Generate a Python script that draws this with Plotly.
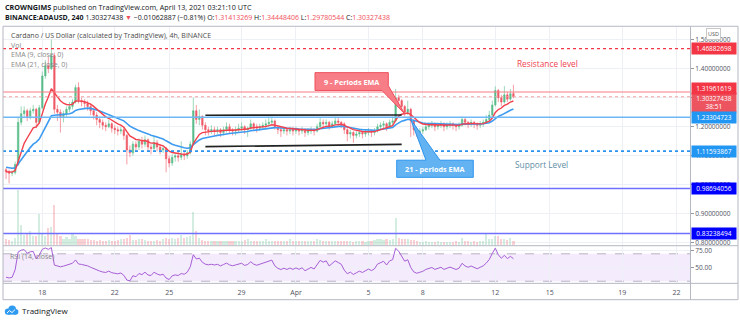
import pandas as pd
import plotly.graph_objects as go

W, H = 740, 323

# ---------------- data: BINANCE ADAUSD, 4h candles ----------------
start = "2021-03-16 00:00"
first_open = 1.052
last_open = 1.31413269

close = [
    1.045, 1.040, 1.042, 1.070, 1.215, 1.245, 1.255, 1.235, 1.255, 1.260,
    1.215, 1.265, 1.375, 1.410, 1.400, 1.445, 1.260, 1.250, 1.235, 1.245,
    1.260, 1.270, 1.285, 1.335, 1.290, 1.285, 1.280, 1.270, 1.255, 1.240,
    1.225, 1.215, 1.205, 1.200, 1.210, 1.195, 1.190, 1.185, 1.190, 1.170,
    1.120, 1.110, 1.140, 1.130, 1.150, 1.140, 1.155, 1.130, 1.125, 1.145,
    1.130, 1.120, 1.125, 1.090, 1.075, 1.095, 1.100, 1.095, 1.105, 1.100,
    1.110, 1.140, 1.255, 1.225, 1.235, 1.205, 1.190, 1.185, 1.190, 1.185,
    1.190, 1.180, 1.190, 1.200, 1.190, 1.185, 1.190, 1.195, 1.200, 1.190,
    1.195, 1.210, 1.200, 1.195, 1.200, 1.205, 1.210, 1.215, 1.220, 1.200,
    1.190, 1.185, 1.190, 1.185, 1.190, 1.185, 1.190, 1.185, 1.190, 1.180,
    1.185, 1.190, 1.185, 1.200, 1.215, 1.210, 1.215, 1.200, 1.210, 1.220,
    1.215, 1.210, 1.190, 1.175, 1.180, 1.170, 1.175, 1.180, 1.175, 1.180,
    1.185, 1.180, 1.185, 1.200, 1.205, 1.210, 1.200, 1.215, 1.220, 1.300,
    1.290, 1.270, 1.250, 1.260, 1.220, 1.190, 1.180, 1.185, 1.190, 1.200,
    1.205, 1.210, 1.200, 1.205, 1.210, 1.200, 1.205, 1.210, 1.205, 1.200,
    1.205, 1.225, 1.215, 1.210, 1.215, 1.210, 1.205, 1.210, 1.215, 1.225,
    1.240, 1.275, 1.325, 1.300, 1.285, 1.310, 1.295, 1.31390325, 1.30327438,
]
high = [
    1.058, 1.052, 1.050, 1.080, 1.235, 1.270, 1.270, 1.262, 1.265, 1.275,
    1.265, 1.275, 1.390, 1.430, 1.440, 1.500, 1.455, 1.275, 1.260, 1.255,
    1.270, 1.285, 1.295, 1.345, 1.353, 1.300, 1.295, 1.290, 1.280, 1.265,
    1.250, 1.235, 1.225, 1.215, 1.225, 1.215, 1.205, 1.200, 1.200, 1.200,
    1.175, 1.135, 1.150, 1.150, 1.160, 1.165, 1.170, 1.160, 1.140, 1.170,
    1.155, 1.140, 1.135, 1.130, 1.100, 1.105, 1.110, 1.120, 1.150, 1.115,
    1.120, 1.150, 1.300, 1.275, 1.260, 1.240, 1.215, 1.200, 1.205, 1.200,
    1.200, 1.195, 1.200, 1.215, 1.210, 1.195, 1.200, 1.210, 1.215, 1.205,
    1.200, 1.225, 1.215, 1.210, 1.210, 1.215, 1.225, 1.235, 1.235, 1.225,
    1.205, 1.200, 1.200, 1.195, 1.200, 1.200, 1.200, 1.195, 1.200, 1.195,
    1.195, 1.200, 1.195, 1.210, 1.230, 1.225, 1.225, 1.220, 1.220, 1.235,
    1.230, 1.220, 1.215, 1.195, 1.190, 1.185, 1.185, 1.190, 1.185, 1.190,
    1.195, 1.190, 1.195, 1.210, 1.215, 1.220, 1.215, 1.225, 1.235, 1.330,
    1.310, 1.295, 1.275, 1.290, 1.265, 1.225, 1.195, 1.195, 1.200, 1.210,
    1.215, 1.220, 1.215, 1.215, 1.220, 1.215, 1.215, 1.220, 1.215, 1.210,
    1.215, 1.235, 1.230, 1.220, 1.225, 1.220, 1.215, 1.220, 1.225, 1.240,
    1.255, 1.290, 1.339, 1.330, 1.310, 1.340, 1.320, 1.330, 1.34448406,
]
low = [
    1.020, 1.005, 1.030, 1.035, 1.065, 1.205, 1.235, 1.220, 1.225, 1.245,
    1.195, 1.210, 1.260, 1.365, 1.385, 1.395, 1.245, 1.220, 1.180, 1.215,
    1.235, 1.250, 1.260, 1.280, 1.280, 1.270, 1.265, 1.255, 1.240, 1.225,
    1.205, 1.195, 1.190, 1.185, 1.195, 1.180, 1.175, 1.170, 1.175, 1.155,
    1.070, 1.095, 1.100, 1.115, 1.120, 1.125, 1.130, 1.115, 1.105, 1.115,
    1.115, 1.105, 1.110, 1.043, 1.060, 1.065, 1.080, 1.080, 1.085, 1.085,
    1.090, 1.105, 1.135, 1.210, 1.205, 1.190, 1.170, 1.170, 1.175, 1.170,
    1.175, 1.165, 1.170, 1.180, 1.175, 1.170, 1.170, 1.180, 1.185, 1.175,
    1.165, 1.190, 1.185, 1.180, 1.185, 1.190, 1.195, 1.200, 1.205, 1.190,
    1.175, 1.165, 1.175, 1.170, 1.175, 1.170, 1.175, 1.170, 1.175, 1.165,
    1.170, 1.175, 1.170, 1.180, 1.195, 1.195, 1.200, 1.190, 1.195, 1.205,
    1.200, 1.195, 1.175, 1.150, 1.160, 1.145, 1.160, 1.165, 1.160, 1.165,
    1.170, 1.165, 1.170, 1.180, 1.190, 1.195, 1.185, 1.195, 1.205, 1.215,
    1.270, 1.260, 1.235, 1.240, 1.165, 1.170, 1.165, 1.170, 1.175, 1.185,
    1.190, 1.195, 1.185, 1.190, 1.195, 1.185, 1.190, 1.195, 1.190, 1.185,
    1.190, 1.200, 1.205, 1.195, 1.200, 1.195, 1.190, 1.195, 1.200, 1.210,
    1.220, 1.235, 1.270, 1.285, 1.270, 1.280, 1.285, 1.290, 1.29780544,
]
# volume, millions of ADA
volume = [
    23, 20, 16, 29, 223, 83, 43, 49, 56, 39,
    39, 125, 49, 36, 69, 72, 163, 49, 36, 27,
    32, 27, 45, 36, 23, 23, 24, 27, 20, 20,
    16, 19, 16, 16, 20, 16, 16, 19, 23, 23,
    29, 43, 20, 19, 23, 23, 20, 16, 16, 16,
    19, 16, 23, 29, 23, 29, 23, 29, 43, 29,
    35, 36, 136, 56, 29, 20, 17, 16, 15, 16,
    15, 16, 17, 16, 15, 16, 17, 16, 15, 19,
    23, 17, 16, 15, 16, 15, 23, 16, 15, 17,
    16, 15, 16, 17, 23, 16, 15, 16, 17, 16,
    15, 16, 17, 23, 19, 16, 15, 16, 17, 15,
    16, 15, 17, 16, 15, 13, 16, 15, 16, 13,
    16, 17, 21, 25, 23, 20, 23, 20, 24, 109,
    29, 25, 23, 27, 21, 20, 16, 13, 12, 15,
    13, 12, 13, 15, 12, 13, 11, 13, 12, 15,
    13, 29, 17, 15, 13, 16, 13, 15, 17, 47,
    25, 23, 36, 36, 25, 23, 19, 29, 16,
]
assert len(close) == len(high) == len(low) == len(volume) == 169

# indicator state carried in from bars before the first one shown
ema9_seed, ema21_seed = 1.045, 1.062
rsi_gain_seed, rsi_loss_seed = 0.0045, 0.0075

# horizontal levels drawn on the chart
level_top = 1.46882698
level_resistance = 1.31961619
level_mid = 1.23304723
level_support = 1.11593867
level_low1 = 0.98694056
level_low2 = 0.83238494

# consolidation channel (trend lines)
channel_time = ["2021-03-27 00:00", "2021-04-06 20:00"]
channel_upper = [1.2396, 1.2406]
channel_lower = [1.1314, 1.1392]

# time axis labels
tick_dates = ["2021-03-18", "2021-03-22", "2021-03-25", "2021-03-29", "2021-04-01",
              "2021-04-05", "2021-04-08", "2021-04-12", "2021-04-15", "2021-04-19",
              "2021-04-22"]
tick_text = ["18", "22", "25", "29", "Apr", "5", "8", "12", "15", "19", "22"]

# ---------------- derived series ----------------
ref = pd.Timestamp("2021-03-18")
times = pd.date_range(start, periods=len(close), freq="4h")
t = [(ts - ref) / pd.Timedelta(days=1) for ts in times]
opens = [first_open] + close[:-1]
opens[-1] = last_open


def ema(vals, n, seed):
    a = 2.0 / (n + 1)
    out, prev = [], seed
    for v in vals:
        prev = a * v + (1 - a) * prev
        out.append(prev)
    return out


def rsi(vals, prev, g, l, n=14):
    out = []
    for v in vals:
        d = v - prev
        g = (g * (n - 1) + max(d, 0)) / n
        l = (l * (n - 1) + max(-d, 0)) / n
        out.append(100 - 100 / (1 + g / l))
        prev = v
    return out


ema9 = ema(close, 9, ema9_seed)
ema21 = ema(close, 21, ema21_seed)
rsi14 = rsi(close, first_open, rsi_gain_seed, rsi_loss_seed)


def days(s):
    return (pd.Timestamp(s) - ref) / pd.Timedelta(days=1)


# ---------------- geometry (pixels) ----------------
X_L, X_R = 3, 690
T_L, T_R = -2.169, 35.745
Y_T, Y_B = 25.5, 246.7
P_T = 1.5461
P_B = P_T - (Y_B - Y_T) / 293.0
Y2_T, Y2_B = 247.5, 285.0
R_T, R_B = 81.1, 26.9


def px_x(tv):
    return X_L + (tv - T_L) / (T_R - T_L) * (X_R - X_L)


def px_y(p):
    return Y_T + (P_T - p) / (P_T - P_B) * (Y_B - Y_T)


def pp(x, y):
    return x / W, 1 - y / H


def path(points, close_it=True):
    s = ""
    for k, (x, y) in enumerate(points):
        a, b = pp(x, y)
        s += ("M" if k == 0 else "L") + f"{a:.5f},{b:.5f} "
    return s + ("Z" if close_it else "")


UP, DN = "#5bbd8c", "#ee5a67"
GRID = "#edf0f5"
FONT = "Open Sans"

fig = go.Figure()

# volume (overlay axis)
vol_colors = ["rgba(83,185,135,0.25)" if c >= o else "rgba(235,77,92,0.25)"
              for o, c in zip(opens, close)]
fig.add_trace(go.Bar(x=t, y=volume, marker_color=vol_colors, marker_line_width=0,
                     width=0.12, xaxis="x", yaxis="y3", hoverinfo="skip"))

fig.add_trace(go.Candlestick(
    x=t, open=opens, high=high, low=low, close=close, xaxis="x", yaxis="y",
    increasing=dict(line=dict(color=UP, width=0.6), fillcolor=UP),
    decreasing=dict(line=dict(color=DN, width=0.6), fillcolor=DN),
    whiskerwidth=0, hoverinfo="skip"))

fig.add_trace(go.Scatter(x=t, y=ema21, mode="lines", line=dict(color="#3d9bf0", width=1.6),
                         xaxis="x", yaxis="y", hoverinfo="skip"))
fig.add_trace(go.Scatter(x=t, y=ema9, mode="lines", line=dict(color="#f2414c", width=1.4),
                         xaxis="x", yaxis="y", hoverinfo="skip"))

ct = [days(s) for s in channel_time]
for ys in (channel_upper, channel_lower):
    fig.add_trace(go.Scatter(x=ct, y=ys, mode="lines", line=dict(color="#222222", width=1.6),
                             xaxis="x", yaxis="y", hoverinfo="skip"))

fig.add_trace(go.Scatter(x=t, y=rsi14, mode="lines", line=dict(color="#a65ed6", width=1),
                         xaxis="x2", yaxis="y2", hoverinfo="skip"))

shapes = []
# RSI band
shapes.append(dict(type="rect", xref="paper", yref="y2", x0=X_L / W, x1=X_R / W, y0=30, y1=70,
                   fillcolor="rgba(170,100,230,0.13)", line_width=0, layer="below"))
for lv in (30, 70):
    shapes.append(dict(type="line", xref="paper", yref="y2", x0=X_L / W, x1=X_R / W, y0=lv, y1=lv,
                       line=dict(color="#b9b2c4", width=1, dash="dash"), layer="below"))

# horizontal levels
lvl_styles = [
    (level_top, "#f23645", "dot", 1.2),
    (level_resistance, "#f77c84", "solid", 1.2),
    (close[-1], "#f4a0a6", "dot", 1),
    (level_mid, "#6db8f5", "solid", 1.5),
    (level_support, "#2a93ef", "dot", 1.6),
    (level_low1, "#7070ff", "solid", 1.5),
    (level_low2, "#7070ff", "solid", 1.5),
]
for v, col, dash, w in lvl_styles:
    shapes.append(dict(type="line", xref="paper", yref="y", x0=X_L / W, x1=X_R / W, y0=v, y1=v,
                       line=dict(color=col, width=w, dash=dash)))

# callouts
i_red, i_blue = 132, 134
tip_r = (px_x(t[i_red]), px_y(ema9[i_red]))
tip_b = (px_x(t[i_blue]), px_y(ema21[i_blue]))
red_box = [(315, 72.3), (388.3, 72.3), (388.3, 85.5), tip_r, (382, 90.3), (315, 90.3)]
blue_box = [(396.7, 160.7), (426, 160.7), tip_b, (440, 160.7), (473.3, 160.7), (473.3, 178), (396.7, 178)]
shapes.append(dict(type="path", xref="paper", yref="paper", path=path(red_box),
                   fillcolor="#f77e86", line=dict(color="#ef4f5b", width=1)))
shapes.append(dict(type="path", xref="paper", yref="paper", path=path(blue_box),
                   fillcolor="#63b3f2", line=dict(color="#2d95ee", width=1)))

# frame
def fline(x0, y0, x1, y1, col="#b4b8c2"):
    a0, b0 = pp(x0, y0)
    a1, b1 = pp(x1, y1)
    return dict(type="line", xref="paper", yref="paper", x0=a0, y0=b0, x1=a1, y1=b1,
                line=dict(color=col, width=1))

shapes += [fline(3, 25.5, 738, 25.5), fline(3, 301.5, 738, 301.5), fline(3, 25.5, 3, 301.5),
           fline(738, 25.5, 738, 301.5), fline(690.5, 25.5, 690.5, 301.5),
           fline(3, 247, 738, 247), fline(3, 285, 738, 285)]

# TradingView logo cloud
for cx, cy, r in [(8, 313.5, 3.2), (12.2, 311.2, 3.8), (15.6, 313.8, 2.8)]:
    a0, b0 = pp(cx - r, cy - r)
    a1, b1 = pp(cx + r, cy + r)
    shapes.append(dict(type="circle", xref="paper", yref="paper", x0=a0, y0=b0, x1=a1, y1=b1,
                       fillcolor="#2e9af0", line_width=0))
shapes.append(dict(type="path", xref="paper", yref="paper",
                   path=path([(8, 313.5), (15.6, 313.5), (15.6, 316.6), (8, 316.6)]),
                   fillcolor="#2e9af0", line_width=0))
shapes.append(dict(type="path", xref="paper", yref="paper",
                   path=path([(7, 315), (9.5, 312.5), (12, 314.5), (15, 311.5)], close_it=False),
                   line=dict(color="white", width=1)))

ann = []


def txt(x, y, s, size=7, color="#131722", anchor="left", **kw):
    a, b = pp(x, y)
    ann.append(dict(x=a, y=b, xref="paper", yref="paper", text=s, showarrow=False,
                    xanchor=anchor, yanchor="middle", font=dict(family=FONT, size=size, color=color), **kw))


R = "#ef4f5a"
chg = close[-1] - close[-2]
pct = chg / close[-2] * 100
sign = "−" if chg < 0 else "+"
txt(3, 6.5, "<b>CROWNGIMS</b> published on TradingView.com, April 13, 2021 03:21:10 UTC", 7.2)
txt(3, 17, f"<b>BINANCE:ADAUSD, 240</b> {close[-1]:.8f} <span style='color:{R}'>▼</span> "
           f"{sign}{abs(chg):.8f} ({sign}{abs(pct):.2f}%) "
           f"O:<span style='color:{R}'>{opens[-1]:.8f}</span> "
           f"H:<span style='color:{R}'>{high[-1]:.8f}</span> "
           f"L:<span style='color:{R}'>{low[-1]:.8f}</span> "
           f"C:<span style='color:{R}'>{close[-1]:.8f}</span>", 7.0)
txt(9, 35, "Cardano / US Dollar (calculated by TradingView), 4h, BINANCE", 7, "#4a4a4a")
txt(9, 44.5, "Vol", 7, "#888888")
txt(9, 54.5, "EMA (9, close, 0)", 7, "#888888")
txt(9, 64.5, "EMA (21, close, 0)", 7, "#888888")
txt(8, 257.5, "RSI (14, close)", 7, "#888888")
txt(515, 63.5, "Resistance level", 8.3, "#f0434f")
txt(513, 165.5, "Support Level", 8.3, "#5f8ea6")
txt(351.6, 81.3, "<b>9 - Periods EMA</b>", 7.3, "white", anchor="center")
txt(435, 169.4, "<b>21 - periods EMA</b>", 7.3, "white", anchor="center")
txt(20, 312.5, "TradingView", 8, "#131722")
txt(713, 33.5, "USD", 5.5, "#555555", anchor="center", bgcolor="white",
    bordercolor="#c8c8c8", borderwidth=1, borderpad=1)

# price-scale labels
def plabel(v, bg, text=None, yshift=0, yanchor="middle"):
    ann.append(dict(x=691 / W, y=v, xref="paper", yref="y", text=text or f"{v:.8f}",
                    showarrow=False, xanchor="left", yanchor=yanchor, yshift=yshift,
                    bgcolor=bg, width=42, align="center", borderpad=1,
                    font=dict(family=FONT, size=6.5, color="white")))


plabel(level_top, "#f23645")
plabel(close[-1], "#ec5560", text=f"{close[-1]:.8f}<br>38:51", yanchor="top", yshift=5)
plabel(level_resistance, "#f23645", yshift=4)
plabel(level_mid, "#2196f3")
plabel(level_support, "#2196f3")
plabel(level_low1, "#0000ff")
plabel(level_low2, "#0000ff")

tickv = [days(s) for s in tick_dates]
axfont = dict(family=FONT, size=6.5, color="#50535e")

fig.update_layout(
    width=W, height=H, margin=dict(l=0, r=0, t=0, b=0),
    paper_bgcolor="white", plot_bgcolor="white", showlegend=False,
    shapes=shapes, annotations=ann, bargap=0,
    xaxis=dict(domain=[X_L / W, X_R / W], range=[T_L, T_R], anchor="y",
               tickvals=tickv, showticklabels=False, showgrid=True, gridcolor=GRID,
               zeroline=False, showline=False, rangeslider=dict(visible=False), fixedrange=True),
    yaxis=dict(domain=[1 - Y_B / H, 1 - Y_T / H], range=[P_B, P_T], anchor="x", side="right",
               tickvals=[0.8, 0.9, 1.0, 1.1, 1.2, 1.3, 1.4, 1.5], tickformat=".8f",
               ticks="outside", ticklen=3, tickcolor="#9598a1", tickfont=axfont,
               showgrid=True, gridcolor=GRID, zeroline=False, showline=False, fixedrange=True),
    yaxis3=dict(overlaying="y", range=[0, 890], visible=False, fixedrange=True),
    xaxis2=dict(domain=[X_L / W, X_R / W], range=[T_L, T_R], anchor="y2",
                tickvals=tickv, ticktext=tick_text, tickfont=dict(family=FONT, size=7, color="#50535e"),
                ticks="outside", ticklen=2, tickcolor="rgba(0,0,0,0)",
                showgrid=True, gridcolor=GRID, zeroline=False, showline=False, fixedrange=True),
    yaxis2=dict(domain=[1 - Y2_B / H, 1 - Y2_T / H], range=[R_B, R_T], anchor="x2", side="right",
                tickvals=[50, 75], tickformat=".2f", ticks="outside", ticklen=3,
                tickcolor="#9598a1", tickfont=axfont, showgrid=True, gridcolor=GRID,
                zeroline=False, showline=False, fixedrange=True),
)

fig.write_html("out.html")
